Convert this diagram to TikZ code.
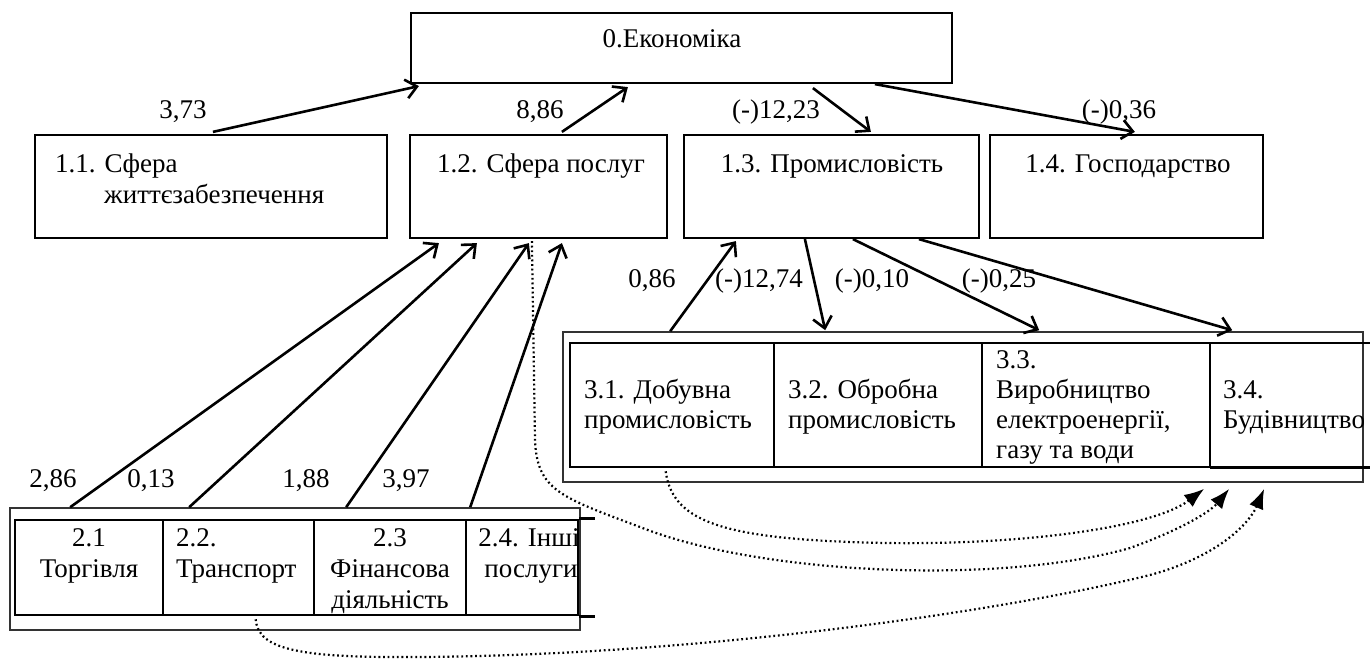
\documentclass[tikz,border=0pt]{standalone}
\usepackage{fontspec}
\setmainfont{Liberation Serif}
\usetikzlibrary{arrows.meta,calc}
\begin{document}
\begin{tikzpicture}[x=1pt,y=-1pt,
  box/.style={draw, line width=2.2pt, inner sep=0pt},
  grp/.style={draw=black!80, line width=1.6pt, inner sep=0pt},
  cell/.style={draw, line width=2.6pt, inner sep=0pt},
  ghost/.style={inner sep=0pt},
  txt/.style={inner sep=0pt, font=\fontsize{27}{30}\selectfont},
  arr/.style={line width=2.6pt, -{Straight Barb[length=11pt,width=19pt,line width=2.6pt]}},
  dotarr/.style={line width=2.2pt, dash pattern=on 1.8pt off 2.8pt, -{Latex[length=20pt,width=15pt]}}]
\useasboundingbox (0,0) rectangle (1370,661);
% level 0 and 1 boxes
\node[box, minimum width=541pt, minimum height=70pt] (b0) at (681.5,48) {};
\node[box, minimum width=352pt, minimum height=103pt] (b11) at (211,186.5) {};
\node[box, minimum width=257pt, minimum height=103pt] (b12) at (538.5,186.5) {};
\node[box, minimum width=295pt, minimum height=103pt] (b13) at (831.5,186.5) {};
\node[box, minimum width=273pt, minimum height=103pt] (b14) at (1126.5,186.5) {};
% group 3
\node[grp, minimum width=800pt, minimum height=150pt] (g3) at (963,407) {};
\node[cell, minimum width=204pt, minimum height=124pt] (c31) at (672,405) {};
\node[cell, minimum width=208pt, minimum height=124pt] (c32) at (878,405) {};
\node[cell, minimum width=228pt, minimum height=124pt] (c33) at (1096,405) {};
\node[ghost, minimum width=160pt, minimum height=124pt] (c34) at (1290,405) {};
\draw[line width=2.6pt] (c34.north west) -- (c34.north east);
\draw[line width=2.6pt] (c34.south west) -- (c34.south east);
% group 2
\node[grp, minimum width=570pt, minimum height=122pt] (g2) at (295,569) {};
\node[cell, minimum width=148pt, minimum height=95pt] (c21) at (89,567.5) {};
\node[cell, minimum width=151pt, minimum height=95pt] (c22) at (238.5,567.5) {};
\node[cell, minimum width=152pt, minimum height=95pt] (c23) at (390,567.5) {};
\node[cell, minimum width=112pt, minimum height=95pt] (c24) at (522,567.5) {};
\coordinate (e24n) at ($(c24.north east)+(16,0)$);
\coordinate (e24s) at ($(c24.south east)+(16,0)$);
\draw[line width=2.6pt] (c24.north east) -- (e24n);
\draw[line width=2.6pt] (c24.south east) -- (e24s);
% texts
\node[txt, anchor=base] (t0) at (672,48) {0.Економіка};
\node[txt, anchor=base west] (t11a) at (55,172) {1.1. Сфера};
\node[txt, anchor=base west] (t11b) at (104,203) {життєзабезпечення};
\node[txt, anchor=base] (t12) at (541,172) {1.2. Сфера послуг};
\node[txt, anchor=base] (t13) at (832,172) {1.3. Промисловість};
\node[txt, anchor=base] (t14) at (1128,172) {1.4. Господарство};
\node[txt, anchor=base west] (t31a) at (584,398) {3.1. Добувна};
\node[txt, anchor=base west] (t31b) at (584,428) {промисловість};
\node[txt, anchor=base west] (t32a) at (788,398) {3.2. Обробна};
\node[txt, anchor=base west] (t32b) at (788,428) {промисловість};
\node[txt, anchor=base west] (t33a) at (996,368) {3.3.};
\node[txt, anchor=base west] (t33b) at (996,398) {Виробництво};
\node[txt, anchor=base west] (t33c) at (996,428) {електроенергії,};
\node[txt, anchor=base west] (t33d) at (996,458) {газу та води};
\node[txt, anchor=base west] (t34a) at (1223,398) {3.4.};
\node[txt, anchor=base west] (t34b) at (1223,428) {Будівництво};
\node[txt, anchor=base] (t21a) at (89,546) {2.1};
\node[txt, anchor=base] (t21b) at (89,577) {Торгівля};
\node[txt, anchor=base west] (t22a) at (176,546) {2.2.};
\node[txt, anchor=base west] (t22b) at (176,577) {Транспорт};
\node[txt, anchor=base] (t23a) at (390,546) {2.3};
\node[txt, anchor=base] (t23b) at (390,577) {Фінансова};
\node[txt, anchor=base] (t23c) at (390,608) {діяльність};
\node[txt, anchor=base] (t24a) at (529,546) {2.4. Інші};
\node[txt, anchor=base] (t24b) at (531,577) {послуги};
% labels
\node[txt, anchor=base] (l1) at (183,118) {3,73};
\node[txt, anchor=base] (l2) at (540,118) {8,86};
\node[txt, anchor=base] (l3) at (776,118) {(-)12,23};
\node[txt, anchor=base] (l4) at (1119,118) {(-)0,36};
\node[txt, anchor=base] (l5) at (652,287) {0,86};
\node[txt, anchor=base] (l6) at (759,287) {(-)12,74};
\node[txt, anchor=base] (l7) at (872,287) {(-)0,10};
\node[txt, anchor=base] (l8) at (999,287) {(-)0,25};
\node[txt, anchor=base] (l9) at (53,487) {2,86};
\node[txt, anchor=base] (l10) at (151,487) {0,13};
\node[txt, anchor=base] (l11) at (306,487) {1,88};
\node[txt, anchor=base] (l12) at (406,487) {3,97};
% solid arrows level 1 -> 0
\draw[arr] ($(b11.north west)+(179,-2)$) -- ($(b0.south west)+(9,2)$);
\draw[arr] ($(b12.north west)+(153,-2)$) -- ($(b0.south west)+(218,3)$);
\draw[arr] ($(b0.south west)+(403,4)$) -- ($(b13.north west)+(188,-2)$);
\draw[arr] ($(b0.south west)+(465,0)$) -- ($(b14.north west)+(146,-2)$);
% group 3 <-> 1.3
\draw[arr] ($(g3.north west)+(108,0)$) -- ($(b13.south west)+(53,2)$);
\draw[arr] ($(b13.south west)+(122,0)$) -- ($(g3.north west)+(263,-1)$);
\draw[arr] ($(b13.south west)+(170,0)$) -- ($(g3.north west)+(477,-1)$);
\draw[arr] ($(b13.south west)+(236,0)$) -- ($(g3.north west)+(670,-1)$);
% group 2 -> 1.2
\draw[arr] ($(g2.north west)+(61,0)$) -- ($(b12.south west)+(30,4)$);
\draw[arr] ($(g2.north west)+(180,0)$) -- ($(b12.south west)+(68,4)$);
\draw[arr] ($(g2.north west)+(337,0)$) -- ($(b12.south west)+(120,4)$);
\draw[arr] ($(g2.north west)+(461,0)$) -- ($(b12.south west)+(153,4)$);
% dotted arrows to 3.4
\draw[dotarr] ($(c31.south west)+(97,3)$) .. controls (672,520) and (720,537) .. (850,542) .. controls (1000,548) and (1150,530) .. ($(g3.south west)+(642,6)$);
\draw[dotarr] ($(b12.south west)+(123,2)$) -- (535,440) .. controls (537,490) and (560,497) .. (640,527) .. controls (760,575) and (1000,585) .. (1130,548) .. controls (1180,530) and (1210,512) .. ($(g3.south west)+(667,6)$);
\draw[dotarr] ($(c22.south west)+(94,3)$) .. controls (258,650) and (300,658) .. (420,657) .. controls (700,655) and (1000,612) .. (1150,575) .. controls (1220,556) and (1250,522) .. ($(g3.south west)+(702,6)$);
\end{tikzpicture}
\end{document}
